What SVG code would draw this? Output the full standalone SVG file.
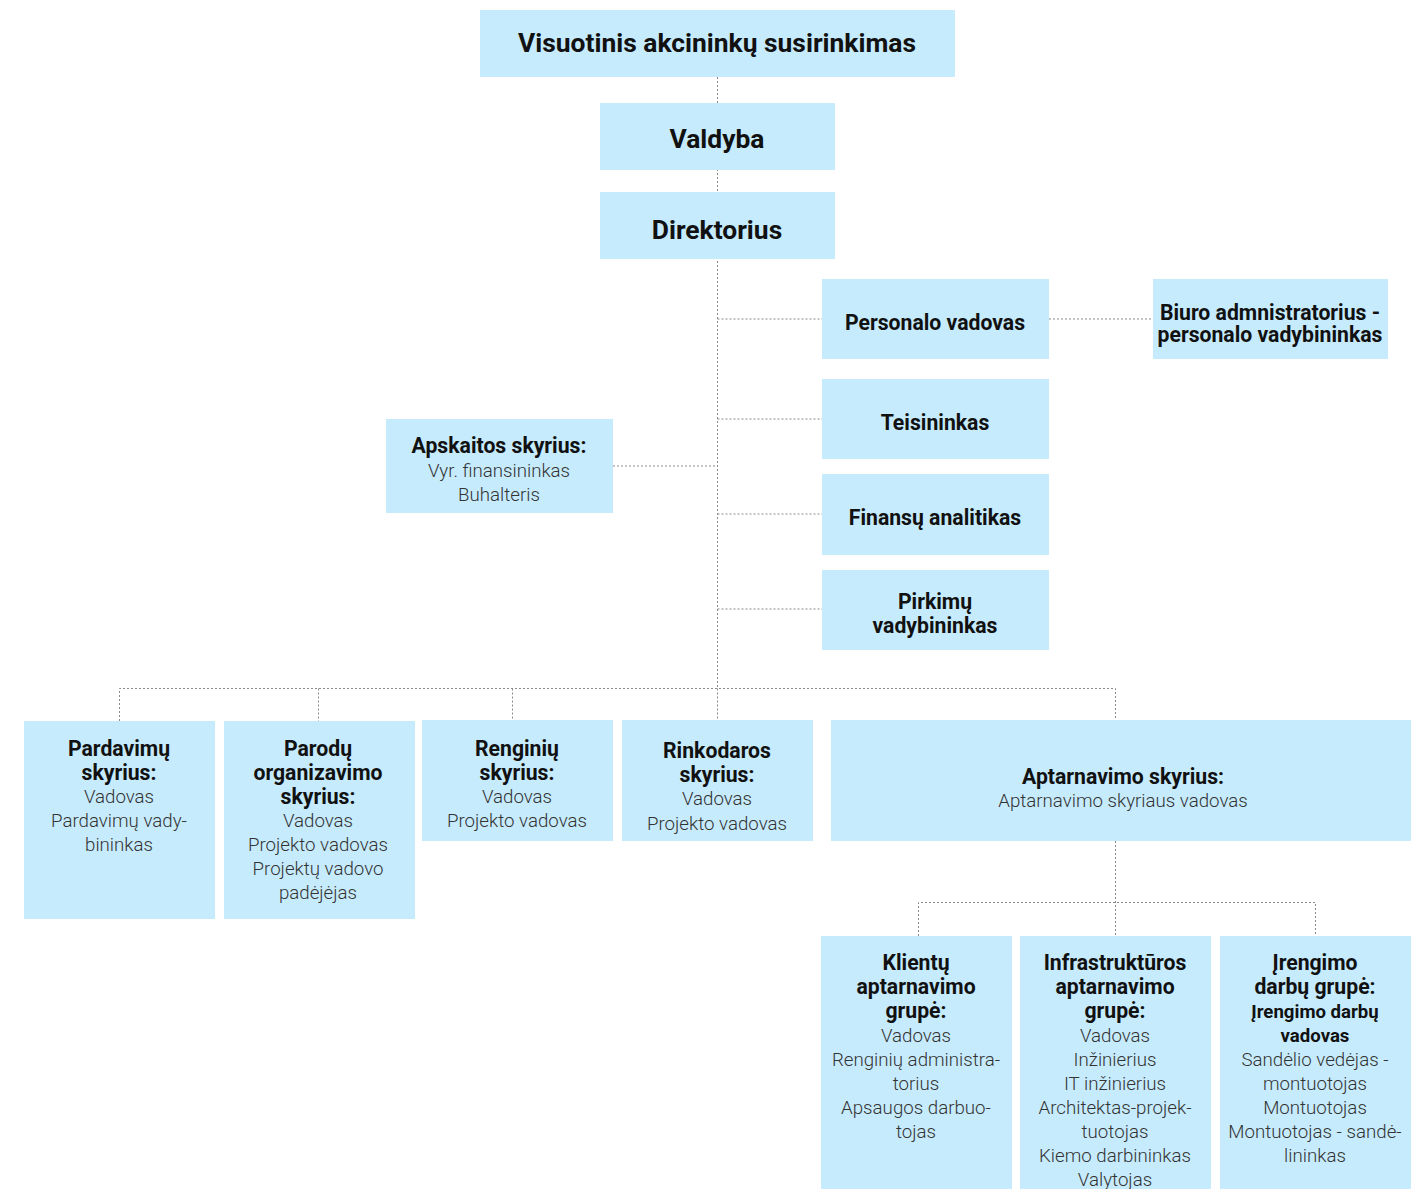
<svg xmlns="http://www.w3.org/2000/svg" width="1424" height="1189" viewBox="0 0 1424 1189">
<style>
.box{fill:#c6ebfd}
.t{font-family:Roboto,"Liberation Sans",sans-serif;text-anchor:middle}
.h1{font-size:26.4px;font-weight:bold;fill:#111}
.b{font-size:21.2px;font-weight:bold;fill:#111}
.bs{font-size:18.6px;font-weight:bold;fill:#111}
.r{font-size:18.7px;font-weight:300;fill:#333}
.c{fill:none;stroke:#8a8a8a;stroke-width:1;stroke-dasharray:2 2}
</style>
<rect width="1424" height="1189" fill="#fff"/>
<g id="connectors">
<path class="c" d="M717.5 77V688"/>
<path class="c" d="M717.5 319H822M1049 319H1153"/>
<path class="c" d="M717.5 419H822M717.5 514H822M717.5 609H822"/>
<path class="c" d="M613 466H717.5"/>
<path class="c" d="M119.5 721V688.5H1115.5V720M318.5 688.5V721M512.5 688.5V720M717.5 688.5V720"/>
<path class="c" d="M1115.5 841V936M918.5 936V902.5H1315.5V936"/>
</g>
<g id="n-visuotinis"><rect class="box" x="480" y="10" width="475" height="67"/><text class="t h1" x="717" y="52">Visuotinis akcininkų susirinkimas</text></g>
<g id="n-valdyba"><rect class="box" x="600" y="103" width="235" height="67"/><text class="t h1" x="717" y="148">Valdyba</text></g>
<g id="n-direktorius"><rect class="box" x="600" y="192" width="235" height="67"/><text class="t h1" x="717" y="239">Direktorius</text></g>
<g id="n-personalo"><rect class="box" x="822" y="279" width="227" height="80"/><text class="t b" x="935" y="330">Personalo vadovas</text></g>
<g id="n-biuro"><rect class="box" x="1153" y="279" width="235" height="80"/><text class="t b" x="1270" y="320">Biuro admnistratorius -</text><text class="t b" x="1270" y="342">personalo vadybininkas</text></g>
<g id="n-teisininkas"><rect class="box" x="822" y="379" width="227" height="80"/><text class="t b" x="935" y="430">Teisininkas</text></g>
<g id="n-finansu"><rect class="box" x="822" y="474" width="227" height="81"/><text class="t b" x="935" y="525">Finansų analitikas</text></g>
<g id="n-pirkimu"><rect class="box" x="822" y="570" width="227" height="80"/><text class="t b" x="935" y="609">Pirkimų</text><text class="t b" x="935" y="633">vadybininkas</text></g>
<g id="n-apskaitos"><rect class="box" x="386" y="419" width="227" height="94"/><text class="t b" x="499" y="453">Apskaitos skyrius:</text><text class="t r" x="499" y="477">Vyr. finansininkas</text><text class="t r" x="499" y="501">Buhalteris</text></g>
<g id="n-pardavimu"><rect class="box" x="24" y="721" width="191" height="198"/><text class="t b" x="119" y="756">Pardavimų</text><text class="t b" x="119" y="780">skyrius:</text><text class="t r" x="119" y="803">Vadovas</text><text class="t r" x="119" y="827">Pardavimų vady-</text><text class="t r" x="119" y="851">bininkas</text></g>
<g id="n-parodu"><rect class="box" x="224" y="721" width="191" height="198"/><text class="t b" x="318" y="756">Parodų</text><text class="t b" x="318" y="780">organizavimo</text><text class="t b" x="318" y="804">skyrius:</text><text class="t r" x="318" y="827">Vadovas</text><text class="t r" x="318" y="851">Projekto vadovas</text><text class="t r" x="318" y="875">Projektų vadovo</text><text class="t r" x="318" y="899">padėjėjas</text></g>
<g id="n-renginiu"><rect class="box" x="422" y="720" width="191" height="121"/><text class="t b" x="517" y="756">Renginių</text><text class="t b" x="517" y="780">skyrius:</text><text class="t r" x="517" y="803">Vadovas</text><text class="t r" x="517" y="827">Projekto vadovas</text></g>
<g id="n-rinkodaros"><rect class="box" x="622" y="720" width="191" height="121"/><text class="t b" x="717" y="758">Rinkodaros</text><text class="t b" x="717" y="782">skyrius:</text><text class="t r" x="717" y="805">Vadovas</text><text class="t r" x="717" y="830">Projekto vadovas</text></g>
<g id="n-aptarnavimo"><rect class="box" x="831" y="720" width="580" height="121"/><text class="t b" x="1123" y="784">Aptarnavimo skyrius:</text><text class="t r" x="1123" y="807">Aptarnavimo skyriaus vadovas</text></g>
<g id="n-klientu"><rect class="box" x="821" y="936" width="191" height="253"/><text class="t b" x="916" y="970">Klientų</text><text class="t b" x="916" y="994">aptarnavimo</text><text class="t b" x="916" y="1018">grupė:</text><text class="t r" x="916" y="1042">Vadovas</text><text class="t r" x="916" y="1066">Renginių administra-</text><text class="t r" x="916" y="1090">torius</text><text class="t r" x="916" y="1114">Apsaugos darbuo-</text><text class="t r" x="916" y="1138">tojas</text></g>
<g id="n-infrastrukturos"><rect class="box" x="1020" y="936" width="191" height="253"/><text class="t b" x="1115" y="970">Infrastruktūros</text><text class="t b" x="1115" y="994">aptarnavimo</text><text class="t b" x="1115" y="1018">grupė:</text><text class="t r" x="1115" y="1042">Vadovas</text><text class="t r" x="1115" y="1066">Inžinierius</text><text class="t r" x="1115" y="1090">IT inžinierius</text><text class="t r" x="1115" y="1114">Architektas-projek-</text><text class="t r" x="1115" y="1138">tuotojas</text><text class="t r" x="1115" y="1162">Kiemo darbininkas</text><text class="t r" x="1115" y="1186">Valytojas</text></g>
<g id="n-irengimo"><rect class="box" x="1220" y="936" width="191" height="253"/><text class="t b" x="1315" y="970">Įrengimo</text><text class="t b" x="1315" y="994">darbų grupė:</text><text class="t bs" x="1315" y="1018">Įrengimo darbų</text><text class="t bs" x="1315" y="1042">vadovas</text><text class="t r" x="1315" y="1066">Sandėlio vedėjas -</text><text class="t r" x="1315" y="1090">montuotojas</text><text class="t r" x="1315" y="1114">Montuotojas</text><text class="t r" x="1315" y="1138">Montuotojas - sandė-</text><text class="t r" x="1315" y="1162">lininkas</text></g>
</svg>
